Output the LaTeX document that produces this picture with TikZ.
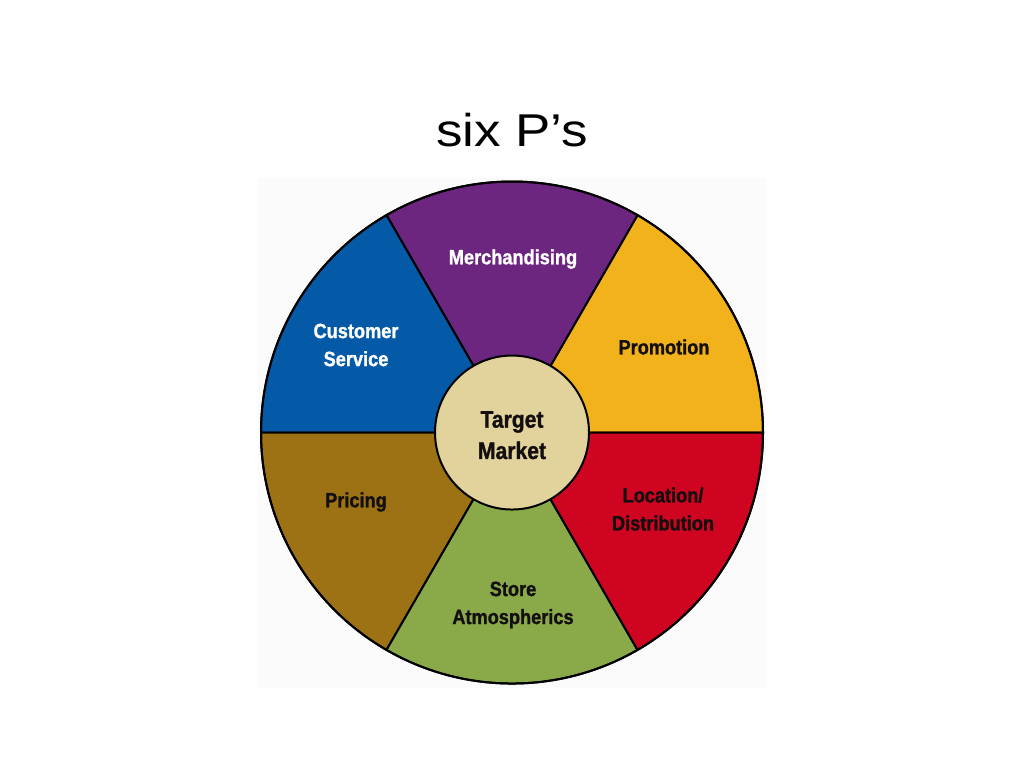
\documentclass[tikz,border=0pt]{standalone}
\usepackage{fontspec}
\setmainfont{Liberation Sans}
\newfontfamily\titlefont[FakeStretch=1.15]{Liberation Sans}
\newfontfamily\condfont[FakeStretch=0.88,FakeBold=1.2]{Liberation Sans}
\definecolor{cpurple}{RGB}{108,38,128}
\definecolor{cblue}{RGB}{5,90,168}
\definecolor{cyellow}{RGB}{242,178,28}
\definecolor{cred}{RGB}{206,4,32}
\definecolor{cgreen}{RGB}{138,170,74}
\definecolor{cbrown}{RGB}{156,114,20}
\definecolor{ctan}{RGB}{226,210,155}
\definecolor{ctext}{RGB}{20,15,15}
\tikzset{
  sector/.style={line width=1.5pt, draw=black, line join=round},
  lab/.style={font=\condfont\bfseries\fontsize{15.5pt}{21pt}\selectfont, align=center, inner sep=0pt},
  whitelab/.style={lab, text=white},
  darklab/.style={lab, text=ctext},
}
\begin{document}
\begin{tikzpicture}
\useasboundingbox (0,0) rectangle (768pt,576pt);
\fill[white] (0,0) rectangle (768pt,576pt);
\fill[black!1.5] (193.5pt,60pt) rectangle (574.5pt,442.5pt);
\coordinate (c) at (384pt,251.6pt);
\def\R{188.25pt}
% sectors
\filldraw[sector, fill=cyellow] (c) -- ++(0:\R) arc[start angle=0, end angle=60, radius=\R] -- cycle;
\filldraw[sector, fill=cpurple] (c) -- ++(60:\R) arc[start angle=60, end angle=120, radius=\R] -- cycle;
\filldraw[sector, fill=cblue] (c) -- ++(120:\R) arc[start angle=120, end angle=180, radius=\R] -- cycle;
\filldraw[sector, fill=cbrown] (c) -- ++(180:\R) arc[start angle=180, end angle=240, radius=\R] -- cycle;
\filldraw[sector, fill=cgreen] (c) -- ++(240:\R) arc[start angle=240, end angle=300, radius=\R] -- cycle;
\filldraw[sector, fill=cred] (c) -- ++(300:\R) arc[start angle=300, end angle=360, radius=\R] -- cycle;
\draw[line width=1.5pt] (c) circle[radius=\R];
% centre
\node[circle, draw=black, line width=1.5pt, fill=ctan, minimum size=115.5pt, inner sep=0pt,
      font=\condfont\bfseries\fontsize{18pt}{23pt}\selectfont, text=ctext] (tm) at (c)
      {\raisebox{-3.5pt}[\height][\depth]{\begin{tabular}{@{}c@{}}Target\\[0.5pt]Market\end{tabular}}};
% title
\node[font=\titlefont\fontsize{34.5pt}{40pt}\selectfont, inner sep=0pt] (title) at (384pt,478.5pt) {six P’s};
% labels
\node[whitelab] (merch) at (384.75pt,381.75pt) {Merchandising};
\node[whitelab] (cust) at (267pt,317.25pt) {Customer\\Service};
\node[darklab] (promo) at (498pt,315.75pt) {Promotion};
\node[darklab] (loc) at (497.25pt,194.25pt) {Location/\\Distribution};
\node[darklab] (store) at (384.75pt,122.25pt) {Store\\Atmospherics};
\node[darklab] (price) at (267pt,199.5pt) {Pricing};
\end{tikzpicture}
\end{document}
